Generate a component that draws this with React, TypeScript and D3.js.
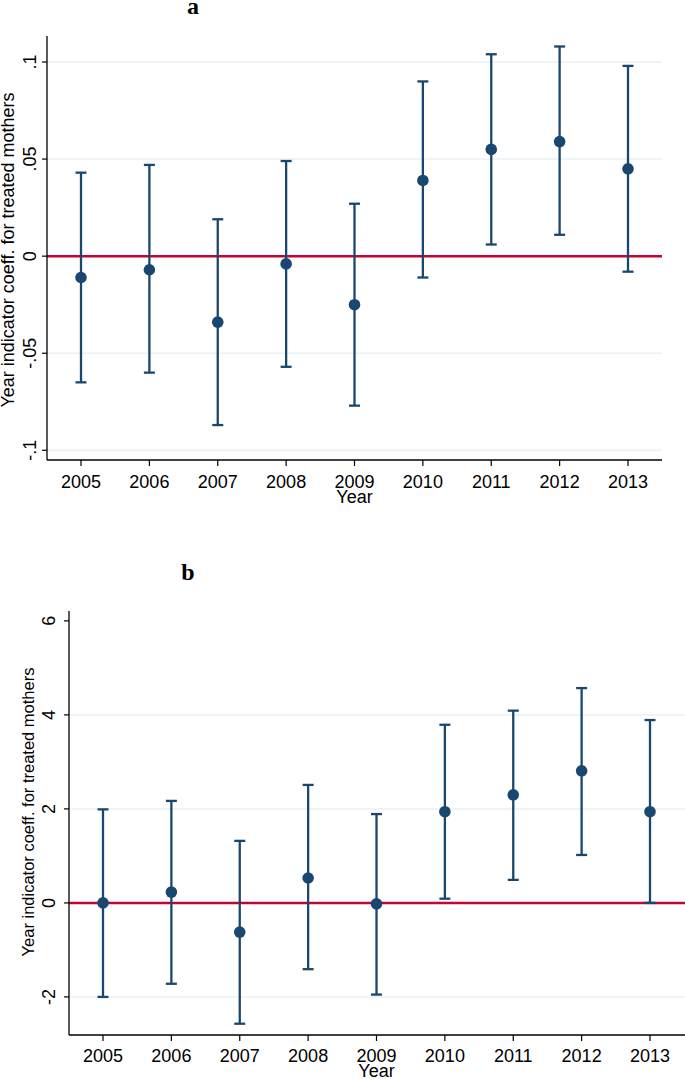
import React from "react";
import * as d3 from "d3";

// years and the coefficient estimates with their confidence bounds
const years = [2005, 2006, 2007, 2008, 2009, 2010, 2011, 2012, 2013];

const coefA = [-0.011, -0.007, -0.034, -0.004, -0.025, 0.039, 0.055, 0.059, 0.045];
const lowerA = [-0.065, -0.060, -0.087, -0.057, -0.077, -0.011, 0.006, 0.011, -0.008];
const upperA = [0.043, 0.047, 0.019, 0.049, 0.027, 0.090, 0.104, 0.108, 0.098];
const ticksA = [-0.1, -0.05, 0, 0.05, 0.1];
const tickLabelsA = ["-.1", "-.05", "0", ".05", ".1"];

const coefB = [0, 0.23, -0.62, 0.53, -0.02, 1.94, 2.30, 2.81, 1.94];
const lowerB = [-2.0, -1.72, -2.57, -1.41, -1.95, 0.09, 0.49, 1.02, 0.0];
const upperB = [1.99, 2.17, 1.32, 2.51, 1.89, 3.79, 4.09, 4.57, 3.89];
const ticksB = [-2, 0, 2, 4, 6];
const tickLabelsB = ["-2", "0", "2", "4", "6"];
const gridB = [-2, 2, 4];

const NAVY = "#1a476f";
const RED = "#c10534";
const GRID = "#eaf2f3";
const FONT = "'Liberation Sans', Arial, sans-serif";

type PanelProps = {
  title: string;
  titleX: number;
  titleY: number;
  left: number;
  right: number;
  top: number;
  bottom: number;
  x0: number;
  x1: number;
  yDomain: [number, number];
  coef: number[];
  lower: number[];
  upper: number[];
  ticks: number[];
  tickLabels: string[];
  grid: number[];
  tickLabelX: number;
  titleLabelX: number;
  titleLabelY: number;
  labelSize: number;
  xLabelY: number;
  yearY: number;
};

function Panel(p: PanelProps) {
  const x = d3.scaleLinear().domain([2005, 2013]).range([p.x0, p.x1]);
  const y = d3.scaleLinear().domain(p.yDomain).range([p.bottom, p.top]);

  return (
    <g>
      <text x={p.titleX} y={p.titleY} textAnchor="middle" fontFamily="'Liberation Serif', 'Times New Roman', serif"
        fontWeight="bold" fontSize={24}>{p.title}</text>

      {p.grid.map((t) => (
        <line key={"g" + t} x1={p.left} x2={p.right} y1={y(t)} y2={y(t)} stroke={GRID} strokeWidth={1.5} />
      ))}
      <line x1={p.left} x2={p.right} y1={y(0)} y2={y(0)} stroke={RED} strokeWidth={2.5} />

      {/* axes */}
      <line x1={p.left} x2={p.left} y1={p.top} y2={p.bottom} stroke="#000" strokeWidth={1.3} />
      <line x1={p.left} x2={p.right} y1={p.bottom} y2={p.bottom} stroke="#000" strokeWidth={1.3} />

      {p.ticks.map((t, i) => (
        <g key={"yt" + t}>
          <line x1={p.left - 5} x2={p.left} y1={y(t)} y2={y(t)} stroke="#000" strokeWidth={1.2} />
          <text transform={`translate(${p.tickLabelX},${y(t)}) rotate(-90)`} textAnchor="middle"
            fontFamily={FONT} fontSize={18}>{p.tickLabels[i]}</text>
        </g>
      ))}
      <text transform={`translate(${p.titleLabelX},${p.titleLabelY}) rotate(-90)`} textAnchor="middle"
        fontFamily={FONT} fontSize={p.labelSize}>Year indicator coeff. for treated mothers</text>

      {years.map((yr) => (
        <g key={"xt" + yr}>
          <line x1={x(yr)} x2={x(yr)} y1={p.bottom} y2={p.bottom + 6} stroke="#000" strokeWidth={1.2} />
          <text x={x(yr)} y={p.xLabelY} textAnchor="middle" fontFamily={FONT} fontSize={18}>{yr}</text>
        </g>
      ))}
      <text x={x(2009)} y={p.yearY} textAnchor="middle" fontFamily={FONT} fontSize={18}>Year</text>

      {years.map((yr, i) => (
        <g key={"bar" + yr} stroke={NAVY} strokeWidth={2.3}>
          <line x1={x(yr)} x2={x(yr)} y1={y(p.lower[i])} y2={y(p.upper[i])} />
          <line x1={x(yr) - 5.5} x2={x(yr) + 5.5} y1={y(p.lower[i])} y2={y(p.lower[i])} />
          <line x1={x(yr) - 5.5} x2={x(yr) + 5.5} y1={y(p.upper[i])} y2={y(p.upper[i])} />
          <circle cx={x(yr)} cy={y(p.coef[i])} r={5.8} fill={NAVY} stroke="none" />
        </g>
      ))}
    </g>
  );
}

export default function App() {
  return (
    <svg width={685} height={1079} style={{ position: "absolute", left: 0, top: 0, background: "#fff" }}>
      <Panel title="a" titleX={193} titleY={14} left={47} right={662} top={36} bottom={460}
        x0={81} x1={628} yDomain={[-0.105, 0.1134]} coef={coefA} lower={lowerA} upper={upperA}
        ticks={ticksA} tickLabels={tickLabelsA} grid={[-0.1, -0.05, 0.05, 0.1]}
        tickLabelX={36} titleLabelX={14} titleLabelY={250} labelSize={18} xLabelY={488} yearY={503} />
      <Panel title="b" titleX={188} titleY={580} left={69} right={685} top={611} bottom={1035}
        x0={103} x1={650} yDomain={[-2.81, 6.21]} coef={coefB} lower={lowerB} upper={upperB}
        ticks={ticksB} tickLabels={tickLabelsB} grid={gridB}
        tickLabelX={55} titleLabelX={34} titleLabelY={812} labelSize={16.5} xLabelY={1062} yearY={1077} />
    </svg>
  );
}
